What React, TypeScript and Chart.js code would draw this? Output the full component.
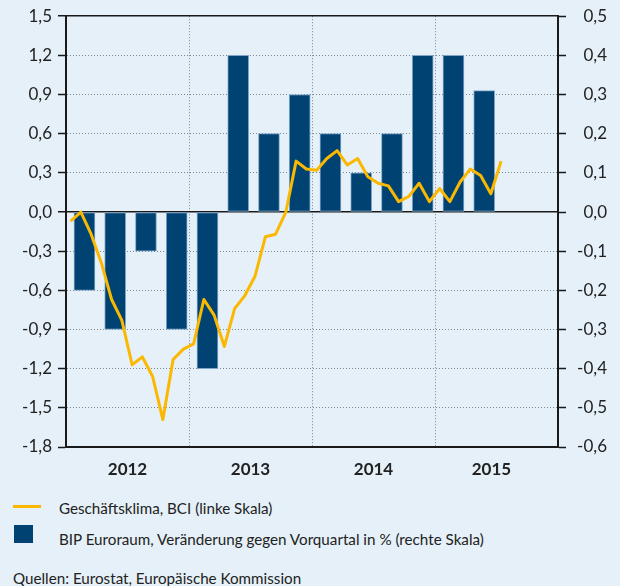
import React, { useEffect, useRef } from "react";
import { Chart, registerables } from "chart.js";

Chart.register(...registerables);

// Monthly business climate indicator (BCI), Jan 2012 – Jul 2015 (left scale)
const bciValues = [
  -0.07, 0.0, -0.17, -0.39, -0.67, -0.83, -1.17, -1.11, -1.26, -1.59, -1.13, -1.05,
  -1.01, -0.67, -0.79, -1.03, -0.74, -0.64, -0.49, -0.19, -0.17, 0.0, 0.39, 0.33,
  0.32, 0.41, 0.47, 0.36, 0.41, 0.27, 0.22, 0.2, 0.08, 0.12, 0.22, 0.08,
  0.18, 0.08, 0.23, 0.33, 0.28, 0.14, 0.39,
];

// Quarterly GDP euro area, change vs previous quarter in % (right scale), Q1 2012 – Q2 2015
const gdpValues = [-0.2, -0.3, -0.1, -0.3, -0.4, 0.4, 0.2, 0.3, 0.2, 0.1, 0.2, 0.4, 0.4, 0.31];

const yearLabels = ["2012", "2013", "2014", "2015"];
const yearLabelPos = [6, 18, 30, 41.5]; // in months since Jan 2012
const yearBoundaries = [12, 24, 36];

const leftTicks = [-1.8, -1.5, -1.2, -0.9, -0.6, -0.3, 0, 0.3, 0.6, 0.9, 1.2, 1.5];
const rightTicks = [-0.6, -0.5, -0.4, -0.3, -0.2, -0.1, 0, 0.1, 0.2, 0.3, 0.4, 0.5];

const legendLine = "Geschäftsklima, BCI (linke Skala)";
const legendBar = "BIP Euroraum, Veränderung gegen Vorquartal in % (rechte Skala)";
const sourceText = "Quellen: Eurostat, Europäische Kommission";

const MONTH_OFFSET = 0.45; // month point position within month
const BAR_OFFSET = 1.8; // bar centre within quarter (months)

const BG = "#e5f0f8";
const LINE_COLOR = "#fbb800";
const BAR_COLOR = "#004373";
const GRID_COLOR = "#7d8791";
const AXIS_COLOR = "#1a1a1a";
const TEXT_COLOR = "#222222";
const FONT = "Lato, 'Open Sans', sans-serif";

const fmt = (v: number) => {
  const s = (Math.round(v * 10) / 10).toFixed(1).replace(".", ",");
  return s === "-0,0" ? "0,0" : s;
};

export default function App() {
  const ref = useRef<HTMLCanvasElement | null>(null);

  useEffect(() => {
    if (!ref.current) return;
    const lineData = bciValues.map((v, i) => ({ x: i + MONTH_OFFSET, y: v }));
    const barData = gdpValues.map((v, q) => ({ x: q * 3 + BAR_OFFSET, y: v }));

    const isStrongLeft = (v: number) => Math.abs(v) < 1e-9 || Math.abs(v - 1.5) < 1e-9;

    const chart = new Chart(ref.current, {
      type: "bar",
      data: {
        datasets: [
          {
            type: "line",
            label: legendLine,
            data: lineData,
            xAxisID: "x",
            yAxisID: "y",
            borderColor: LINE_COLOR,
            backgroundColor: LINE_COLOR,
            borderWidth: 3,
            pointRadius: 0,
            tension: 0,
            borderJoinStyle: "round",
            order: 0,
          } as any,
          {
            type: "bar",
            label: legendBar,
            data: barData,
            xAxisID: "x",
            yAxisID: "y1",
            backgroundColor: BAR_COLOR,
            borderColor: "#7fa6c9",
            borderWidth: 1,
            borderSkipped: false,
            barThickness: 21,
            order: 1,
          } as any,
        ],
      },
      options: {
        responsive: false,
        animation: false,
        layout: { padding: { top: 14, right: 13, left: 0, bottom: 0 } },
        plugins: { legend: { display: false }, tooltip: { enabled: false } },
        scales: {
          x: {
            type: "linear",
            min: 0,
            max: 48,
            offset: false,
            afterBuildTicks: (scale: any) => {
              scale.ticks = [...yearBoundaries, ...yearLabelPos]
                .sort((a, b) => a - b)
                .map((v) => ({ value: v }));
            },
            afterFit: (scale: any) => {
              scale.height = 43;
            },
            ticks: {
              autoSkip: false,
              maxRotation: 0,
              padding: 12,
              color: TEXT_COLOR,
              font: { family: FONT, size: 17, weight: "bold" },
              callback: (value: any) => {
                const idx = yearLabelPos.indexOf(Number(value));
                return idx >= 0 ? yearLabels[idx] : "";
              },
            },
            grid: {
              offset: false,
              drawTicks: false,
              lineWidth: 1,
              color: (ctx: any) =>
                ctx.tick && yearBoundaries.includes(ctx.tick.value) ? GRID_COLOR : "rgba(0,0,0,0)",
            },
            border: {
              color: AXIS_COLOR,
              width: 2,
              dash: (ctx: any) => (ctx.tick ? [1, 2] : []),
            },
          } as any,
          y: {
            type: "linear",
            position: "left",
            min: -1.8,
            max: 1.5,
            afterBuildTicks: (scale: any) => {
              scale.ticks = leftTicks.map((v) => ({ value: v }));
            },
            afterFit: (scale: any) => {
              scale.width = 66;
            },
            ticks: {
              padding: 6,
              color: TEXT_COLOR,
              font: { family: FONT, size: 17 },
              callback: (v: any) => fmt(Number(v)),
            },
            grid: {
              drawTicks: true,
              tickLength: 8,
              tickColor: AXIS_COLOR,
              tickWidth: 1.5,
              color: (ctx: any) =>
                ctx.tick && isStrongLeft(ctx.tick.value) ? AXIS_COLOR : GRID_COLOR,
              lineWidth: (ctx: any) => (ctx.tick && isStrongLeft(ctx.tick.value) ? 1.5 : 1),
            },
            border: {
              color: AXIS_COLOR,
              width: 2,
              dash: (ctx: any) => (ctx.tick && !isStrongLeft(ctx.tick.value) ? [1, 2] : []),
            },
          } as any,
          y1: {
            type: "linear",
            position: "right",
            min: -0.6,
            max: 0.5,
            afterBuildTicks: (scale: any) => {
              scale.ticks = rightTicks.map((v) => ({ value: v }));
            },
            afterFit: (scale: any) => {
              scale.width = 49;
            },
            ticks: {
              padding: 6,
              crossAlign: "far",
              color: TEXT_COLOR,
              font: { family: FONT, size: 17 },
              callback: (v: any) => fmt(Number(v)),
            },
            grid: {
              drawOnChartArea: false,
              drawTicks: true,
              tickLength: 8,
              tickColor: AXIS_COLOR,
              tickWidth: 1.5,
            },
            border: { color: AXIS_COLOR, width: 2 },
          } as any,
        },
      },
    });
    return () => chart.destroy();
  }, []);

  const textStyle: React.CSSProperties = {
    position: "absolute",
    fontFamily: FONT,
    fontSize: 15.2,
    color: TEXT_COLOR,
    whiteSpace: "nowrap",
    lineHeight: "20px",
  };

  return (
    <div
      style={{
        position: "fixed",
        left: 0,
        top: 0,
        width: 620,
        height: 586,
        background: BG,
        overflow: "hidden",
      }}
    >
      <canvas ref={ref} width={620} height={490} style={{ display: "block" }} />
      <div style={{ position: "absolute", left: 13, top: 505, width: 28, height: 3, background: LINE_COLOR }} />
      <div style={{ ...textStyle, left: 59, top: 498 }}>{legendLine}</div>
      <div style={{ position: "absolute", left: 14, top: 525, width: 19, height: 18, background: BAR_COLOR }} />
      <div style={{ ...textStyle, left: 59, top: 529 }}>{legendBar}</div>
      <div style={{ ...textStyle, left: 13, top: 568 }}>{sourceText}</div>
    </div>
  );
}
